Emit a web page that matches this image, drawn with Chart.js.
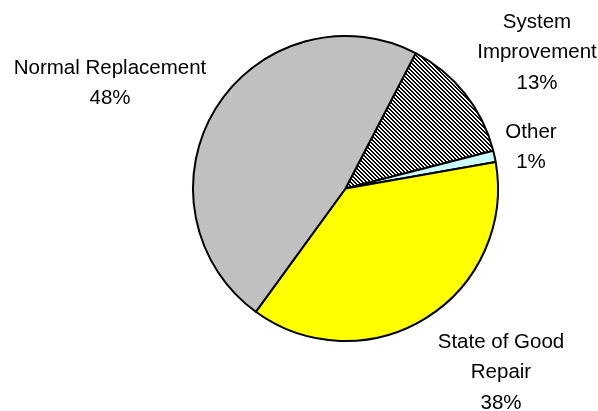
<!DOCTYPE html>
<html lang="en">
<head>
    <meta charset="UTF-8">
    <title>Funding by Category</title>
    <script src="https://cdn.jsdelivr.net/npm/chart.js"></script>
    <style>
        body {
            margin: 0;
            background: #fff;
        }
        #wrap {
            width: 598px;
            height: 411px;
        }
    </style>
</head>
<body>
    <div id="wrap">
        <canvas id="pieChart" width="598" height="411"></canvas>
    </div>
    <script>
        // slice order runs clockwise from the upper right
        const categories = ['System Improvement', 'Other', 'State of Good Repair', 'Normal Replacement'];
        const labelLines = [['System', 'Improvement'], ['Other'], ['State of Good', 'Repair'], ['Normal Replacement']];
        const shares = [13.4, 1.2, 37.8, 47.6];

        // diagonal hatch for the system improvement slice
        function makeHatch() {
            const c = document.createElement('canvas');
            c.width = 4;
            c.height = 4;
            const g = c.getContext('2d');
            g.fillStyle = '#fff';
            g.fillRect(0, 0, 4, 4);
            g.fillStyle = '#000';
            for (let i = 0; i < 4; i++) {
                g.fillRect(i, i, 1, 1);
                g.fillRect((i + 1) % 4, i, 1, 1);
            }
            return g.createPattern(c, 'repeat');
        }

        const ctx = document.getElementById('pieChart').getContext('2d');
        const colors = [makeHatch(), '#CCFFFF', '#FFFF00', '#C0C0C0'];

        // where each label block is centred (x, y of first line)
        const labelSpots = [
            { x: 537, y: 22 },
            { x: 531, y: 132 },
            { x: 501, y: 342 },
            { x: 110, y: 68 }
        ];

        const total = shares.reduce((a, b) => a + b, 0);

        const labelPlugin = {
            id: 'sliceLabels',
            afterDraw(chart) {
                const c = chart.ctx;
                c.save();
                c.fillStyle = '#000';
                c.font = '20.5px "Liberation Sans", Arial, sans-serif';
                c.textAlign = 'center';
                c.textBaseline = 'middle';
                categories.forEach(function (cat, i) {
                    const lines = labelLines[i].concat([Math.round(shares[i] / total * 100) + '%']);
                    lines.forEach(function (line, j) {
                        c.fillText(line, labelSpots[i].x, labelSpots[i].y + j * 30.5);
                    });
                });
                c.restore();
            }
        };

        new Chart(ctx, {
            type: 'pie',
            data: {
                labels: categories,
                datasets: [{
                    data: shares,
                    backgroundColor: colors,
                    borderColor: '#000',
                    borderWidth: 2
                }]
            },
            options: {
                responsive: false,
                animation: false,
                rotation: 27.4,
                layout: {
                    padding: { left: 192, right: 99, top: 35, bottom: 69 }
                },
                plugins: {
                    legend: { display: false },
                    tooltip: { enabled: false }
                }
            },
            plugins: [labelPlugin]
        });
    </script>
</body>
</html>
